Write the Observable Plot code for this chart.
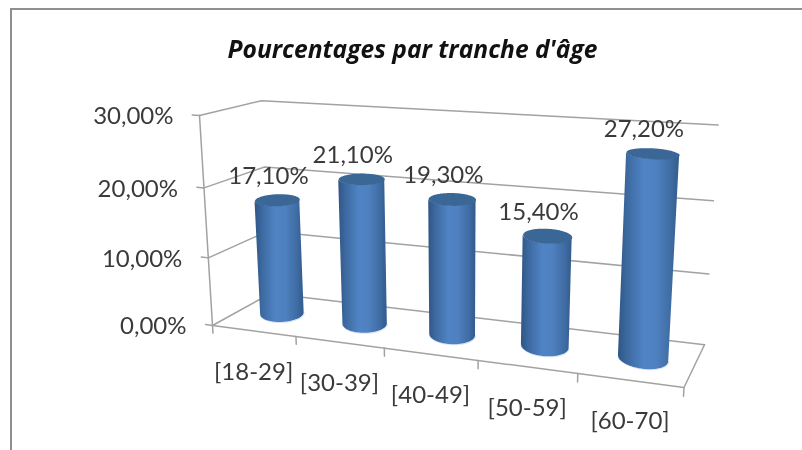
<!DOCTYPE html>
<html lang="fr">
<head>
<meta charset="utf-8">
<script src="https://cdn.jsdelivr.net/npm/d3@7"></script>
<script src="https://cdn.jsdelivr.net/npm/@observablehq/plot@0.6"></script>
<style>
html,body{margin:0;padding:0;background:#fff;overflow:hidden}
#chart{position:relative;width:802px;height:450px}
#chart svg{display:block;filter:blur(0.35px)}
#edge{position:absolute;left:10px;top:8px;right:0;bottom:0;border-left:2px solid #8f8f8f;border-top:2px solid #8f8f8f;pointer-events:none}
</style>
</head>
<body>
<div id="chart"><div id="edge"></div></div>
<script>
const title = "Pourcentages par tranche d'âge";
const categories = ["[18-29]", "[30-39]", "[40-49]", "[50-59]", "[60-70]"];
const values = [17.1, 21.1, 19.3, 15.4, 27.2];
const valueLabels = ["17,10%", "21,10%", "19,30%", "15,40%", "27,20%"];
const yTicks = [0, 10, 20, 30];
const yTickLabels = ["0,00%", "10,00%", "20,00%", "30,00%"];

const FONT = "Lato, 'Open Sans', sans-serif";
const TEXT = "#3a3a3a";
const GRID = "#a2a2a2";

// 3D view of the Excel chart box: where the scaled box's corners fall on the page
const O = [212, 325], X = [683.5, 387], Y = [199, 115], Z = [270, 293];
const wx = 0.86, wy = 0.95, wz = 1.093;
function view(u, v, w) {
  const den = 1 + u * (wx - 1) + v * (wy - 1) + w * (wz - 1);
  const at = k => (O[k] + u * (wx * X[k] - O[k]) + v * (wy * Y[k] - O[k]) + w * (wz * Z[k] - O[k])) / den;
  return [at(0), at(1)];
}
// Render transform: scaled x/y (0..1) plus each row's depth become page positions
const warp = rows => function (index, scales, vals, dims, ctx, next) {
  const out = {...vals};
  for (const [xk, yk] of [["x", "y"], ["x1", "y1"], ["x2", "y2"]]) {
    if (!vals[xk] || !vals[yk]) continue;
    const px = Array.from(vals[xk]), py = Array.from(vals[yk]);
    for (const i of index) {
      const p = view(vals[xk][i], vals[yk][i], rows[i].depth);
      px[i] = p[0]; py[i] = p[1];
    }
    out[xk] = px; out[yk] = py;
  }
  return next(index, scales, out, dims, ctx);
};

// Box lines
const frameRows = [];
yTicks.forEach(t => {
  frameRows.push({g: "g" + t, x: 0, y: t, depth: 0}, {g: "g" + t, x: 0, y: t, depth: 1}, {g: "g" + t, x: 5, y: t, depth: 1});
  frameRows.push({g: "t" + t, x: -0.085, y: t, depth: 0}, {g: "t" + t, x: 0, y: t, depth: 0});
});
frameRows.push({g: "axis", x: 0, y: 0, depth: 0}, {g: "axis", x: 0, y: 30, depth: 0});
frameRows.push({g: "front", x: 0, y: 0, depth: 0}, {g: "front", x: 5, y: 0, depth: 0}, {g: "front", x: 5, y: 0, depth: 1});
[0, 1, 2, 3, 4, 5].forEach(k => frameRows.push({g: "c" + k, x: k, y: 0, depth: 0}, {g: "c" + k, x: k, y: -1.15, depth: 0}));

// Cylinder outlines, from each category and value
const STEPS = 72, RX = 0.215, SHEAR = 0.135, RD = 0.22, TILT = 0.08;
const ringX = (i, a) => i + 0.5 + RX * Math.cos(a) - SHEAR * Math.sin(a);
const ringD = a => 0.5 + RD * Math.sin(a) + TILT * Math.cos(a);
const bodyRows = [], topRows = [], rimRows = [];
categories.forEach((c, i) => {
  // Ring steps where the base ring is leftmost and rightmost: the cylinder's silhouette
  const ring = d3.range(2 * STEPS).map(s => (Math.PI * s) / STEPS);
  const pageX = a => view(ringX(i, a) / 5, 0, ringD(a))[0];
  const sL = d3.scan(ring.map(pageX), d3.ascending);
  const sR = d3.scan(ring.map(pageX), d3.descending);
  for (let s = sL; ; s = (s + 1) % (2 * STEPS)) {
    const a = ring[s];
    bodyRows.push({c, x: ringX(i, a), top: values[i], base: 0, depth: ringD(a)});
    rimRows.push({c, x: ringX(i, a), y: 0, depth: ringD(a)});
    if (s === sR) break;
  }
  ring.forEach(a => topRows.push({c, x: ringX(i, a), y: values[i], depth: ringD(a)}));
});
const valueRows = categories.map((c, i) => ({label: valueLabels[i], x: i + 0.5, y: values[i], depth: 0.5}));
const catRows = categories.map((c, i) => ({label: c, x: i + 0.5, y: 0, depth: 0}));
const tickRows = yTicks.map((t, i) => ({label: yTickLabels[i], x: 0, y: t, depth: 0}));

const gradient = () => {
  const defs = d3.create("svg:defs");
  const g = defs.append("linearGradient").attr("id", "cyl").attr("x1", 0).attr("x2", 1).attr("y1", 0).attr("y2", 0);
  [[0, "#2f5585"], [0.14, "#3c689e"], [0.42, "#5083c5"], [0.62, "#4f81c0"], [0.86, "#3f6ca3"], [1, "#335b8c"]]
    .forEach(([o, col]) => g.append("stop").attr("offset", o).attr("stop-color", col));
  return defs.node();
};

const chart = Plot.plot({
  width: 802, height: 450,
  margin: 0,
  style: {background: "#fff"},
  x: {type: "linear", domain: [0, 5], range: [0, 1], axis: null},
  y: {type: "linear", domain: [0, 30], range: [0, 1], axis: null},
  marks: [
    gradient,
    Plot.line(frameRows, {x: "x", y: "y", z: "g", stroke: GRID, strokeWidth: 1.5, curve: "linear", render: warp(frameRows)}),
    Plot.area(bodyRows, {x1: "x", y1: "top", x2: "x", y2: "base", z: "c", fill: "url(#cyl)", curve: "linear", render: warp(bodyRows)}),
    Plot.line(rimRows, {x: "x", y: "y", z: "c", stroke: "#7fb0ee", strokeOpacity: 0.35, strokeWidth: 1, curve: "linear", render: warp(rimRows)}),
    Plot.line(topRows, {x: "x", y: "y", z: "c", fill: "#3b6797", stroke: "none", curve: "linear", render: warp(topRows)}),
    Plot.text(tickRows, {x: "x", y: "y", text: "label", textAnchor: "end", dx: -26, dy: 1, fontFamily: FONT, fontSize: 24, fill: TEXT, render: warp(tickRows)}),
    Plot.text(catRows, {x: "x", y: "y", text: "label", dy: 41, fontFamily: FONT, fontSize: 24, fill: TEXT, render: warp(catRows)}),
    Plot.text(valueRows, {x: "x", y: "y", text: "label", dx: -9, dy: -24, fontFamily: FONT, fontSize: 24, fill: TEXT, render: warp(valueRows)}),
    Plot.text([title], {frameAnchor: "top-left", dx: 412, dy: 50, textAnchor: "middle", lineAnchor: "middle", fontFamily: "'Open Sans', sans-serif", fontSize: 24.6, fontWeight: 700, fontStyle: "italic", fill: "#111"})
  ]
});
document.getElementById("chart").prepend(chart);
</script>
</body>
</html>
